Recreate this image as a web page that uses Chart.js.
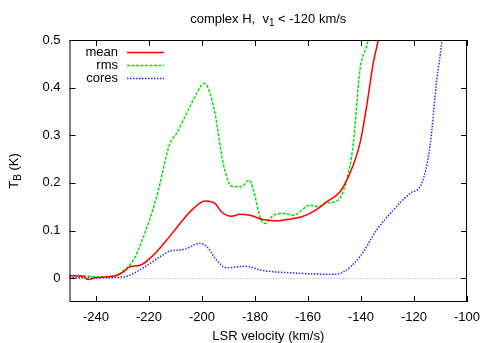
<!DOCTYPE html>
<html>
<head>
<meta charset="utf-8">
<script src="https://cdn.jsdelivr.net/npm/chart.js@4"></script>
<style>
  html, body { margin: 0; padding: 0; background: #fff; }
  #wrap { width: 491px; height: 343px; }
</style>
</head>
<body>
<div id="wrap"><canvas id="chart" width="491" height="343"></canvas></div>
<script>
// data (velocity in km/s, brightness temperature in K)
const meanV = [-250, -245, -243, -240, -235, -232, -229.7, -227.2, -223.4, -218.4, -213.3, -208.3, -203.3, -198.9, -195.1, -192.6, -188.8, -185.7, -181.9, -176.9, -171.8, -168.1, -161.8, -156.8, -153.0, -148.0, -144.2, -140.4, -137.9, -135.4, -133.5, -132];
const meanT = [0.005, 0.004, -0.003, 0.001, 0.003, 0.006, 0.013, 0.024, 0.027, 0.048, 0.080, 0.115, 0.146, 0.162, 0.157, 0.139, 0.130, 0.134, 0.132, 0.123, 0.120, 0.123, 0.130, 0.144, 0.160, 0.181, 0.220, 0.283, 0.360, 0.451, 0.500, 0.55];

const rmsV = [-250, -245, -240, -235, -232, -230.3, -225.9, -222.1, -217.1, -212.1, -209.6, -205.8, -202.0, -199.3, -197.6, -195.1, -192.0, -188.8, -185.1, -182.2, -180.6, -178.1, -176.2, -173.1, -169.3, -165.5, -159.3, -156.1, -153.0, -148.6, -145.4, -142.9, -140.4, -137.3, -136];
const rmsT = [0.005, 0.005, 0.003, 0.004, 0.007, 0.013, 0.038, 0.087, 0.171, 0.283, 0.304, 0.346, 0.388, 0.409, 0.398, 0.346, 0.241, 0.193, 0.192, 0.206, 0.185, 0.129, 0.115, 0.132, 0.136, 0.132, 0.153, 0.150, 0.158, 0.164, 0.206, 0.283, 0.437, 0.500, 0.55];

const coresV = [-250, -240, -235, -232, -228.4, -222.1, -215.8, -212.1, -207.0, -200.8, -198.2, -194.5, -190.7, -183.2, -178.1, -165.5, -150.5, -146.7, -140.4, -134.1, -127.8, -121.5, -117.1, -114.0, -111.4, -109.5, -109];
const coresT = [0.001, 0.001, 0.001, 0.002, 0.004, 0.022, 0.045, 0.057, 0.060, 0.073, 0.066, 0.038, 0.022, 0.025, 0.017, 0.011, 0.008, 0.013, 0.045, 0.101, 0.143, 0.178, 0.199, 0.276, 0.416, 0.500, 0.54];

const xTicks = [-240, -220, -200, -180, -160, -140, -120, -100];
const yTicks = [0, 0.1, 0.2, 0.3, 0.4, 0.5];

const FONT = '"Liberation Sans", Arial, sans-serif';

function pts(vs, ts) {
    return vs.map((v, i) => ({ x: v, y: ts[i] }));
}

const series = [
    { label: 'mean',  data: pts(meanV, meanT),   color: 'rgb(255, 0, 0)',   dash: [] },
    { label: 'rms',   data: pts(rmsV, rmsT),     color: 'rgb(0, 225, 0)',   dash: [3, 1.5] },
    { label: 'cores', data: pts(coresV, coresT), color: 'rgb(40, 40, 255)', dash: [1.5, 1.5] }
];

// frame, inward ticks, zero line, legend and titles
const decor = {
    id: 'decor',
    beforeDatasetsDraw(chart) {
        const { ctx, chartArea: a, scales: { y } } = chart;
        ctx.save();
        ctx.strokeStyle = '#aaa';
        ctx.lineWidth = 1;
        ctx.setLineDash([1, 2]);
        const y0 = Math.round(y.getPixelForValue(0)) + 0.5;
        ctx.beginPath();
        ctx.moveTo(a.left, y0);
        ctx.lineTo(a.right, y0);
        ctx.stroke();
        ctx.restore();
    },
    afterDraw(chart) {
        const { ctx, chartArea: a, scales: { x, y } } = chart;
        ctx.save();
        ctx.strokeStyle = '#000';
        ctx.lineWidth = 1;
        ctx.setLineDash([]);
        ctx.strokeRect(a.left + 0.5, a.top + 0.5, a.right - a.left - 1, a.bottom - a.top - 1);

        const len = 6;
        ctx.beginPath();
        xTicks.forEach(v => {
            const px = Math.round(x.getPixelForValue(v)) + 0.5;
            ctx.moveTo(px, a.bottom); ctx.lineTo(px, a.bottom - len);
            ctx.moveTo(px, a.top); ctx.lineTo(px, a.top + len);
        });
        yTicks.forEach(v => {
            const py = Math.round(y.getPixelForValue(v)) + 0.5;
            ctx.moveTo(a.left, py); ctx.lineTo(a.left + len, py);
            ctx.moveTo(a.right, py); ctx.lineTo(a.right - len, py);
        });
        ctx.stroke();

        // legend
        ctx.font = '13px ' + FONT;
        ctx.textAlign = 'right';
        ctx.textBaseline = 'middle';
        series.forEach((s, i) => {
            const ly = 52.5 + i * 13;
            ctx.fillStyle = '#000';
            ctx.fillText(s.label, 118, ly);
            ctx.strokeStyle = s.color;
            ctx.lineWidth = 1.5;
            ctx.setLineDash(s.dash);
            ctx.beginPath();
            ctx.moveTo(127, ly);
            ctx.lineTo(164, ly);
            ctx.stroke();
        });
        ctx.setLineDash([]);

        // title with subscript
        const cx = (a.left + a.right) / 2;
        ctx.fillStyle = '#000';
        ctx.textAlign = 'left';
        ctx.textBaseline = 'alphabetic';
        const parts = [['complex H,  v', 13, 0], ['1', 10, 3], [' < -120 km/s', 13, 0]];
        let total = 0;
        parts.forEach(p => { ctx.font = p[1] + 'px ' + FONT; total += ctx.measureText(p[0]).width; });
        let tx = cx - total / 2;
        parts.forEach(p => {
            ctx.font = p[1] + 'px ' + FONT;
            ctx.fillText(p[0], tx, 23 + p[2]);
            tx += ctx.measureText(p[0]).width;
        });

        // x axis title
        ctx.font = '13px ' + FONT;
        ctx.textAlign = 'center';
        ctx.textBaseline = 'middle';
        ctx.fillText('LSR velocity (km/s)', cx, 336);

        // y axis title, rotated, with subscript B
        const cy = (a.top + a.bottom) / 2;
        ctx.translate(14, cy);
        ctx.rotate(-Math.PI / 2);
        ctx.textAlign = 'left';
        ctx.textBaseline = 'alphabetic';
        const yparts = [['T', 13, 0], ['B', 10, 3], [' (K)', 13, 0]];
        total = 0;
        yparts.forEach(p => { ctx.font = p[1] + 'px ' + FONT; total += ctx.measureText(p[0]).width; });
        tx = -total / 2;
        yparts.forEach(p => {
            ctx.font = p[1] + 'px ' + FONT;
            ctx.fillText(p[0], tx, 4 + p[2]);
            tx += ctx.measureText(p[0]).width;
        });
        ctx.restore();
    }
};

new Chart(document.getElementById('chart'), {
    type: 'line',
    data: {
        datasets: series.map(s => ({
            label: s.label,
            data: s.data,
            borderColor: s.color,
            borderWidth: 1.5,
            borderDash: s.dash,
            pointRadius: 0,
            fill: false,
            cubicInterpolationMode: 'monotone',
            clip: 0
        }))
    },
    options: {
        responsive: false,
        animation: false,
        events: [],
        layout: { padding: { left: 0, right: 24, top: 40, bottom: 0 } },
        plugins: { legend: { display: false }, tooltip: { enabled: false }, title: { display: false } },
        scales: {
            x: {
                type: 'linear',
                min: -250,
                max: -100,
                afterBuildTicks: axis => { axis.ticks = xTicks.map(v => ({ value: v })); },
                afterFit: axis => { axis.height = 41; },
                grid: { display: false, drawTicks: false },
                border: { display: false },
                ticks: {
                    color: '#000',
                    padding: 8,
                    font: { family: FONT, size: 13 },
                    callback: v => String(v)
                }
            },
            y: {
                type: 'linear',
                min: -0.05,
                max: 0.5,
                afterBuildTicks: axis => { axis.ticks = yTicks.map(v => ({ value: v })); },
                afterFit: axis => { axis.width = 69.5; },
                grid: { display: false, drawTicks: false },
                border: { display: false },
                ticks: {
                    color: '#000',
                    padding: 9,
                    font: { family: FONT, size: 13 },
                    callback: v => (v === 0 ? '0' : v.toFixed(1))
                }
            }
        }
    },
    plugins: [decor]
});
</script>
</body>
</html>
